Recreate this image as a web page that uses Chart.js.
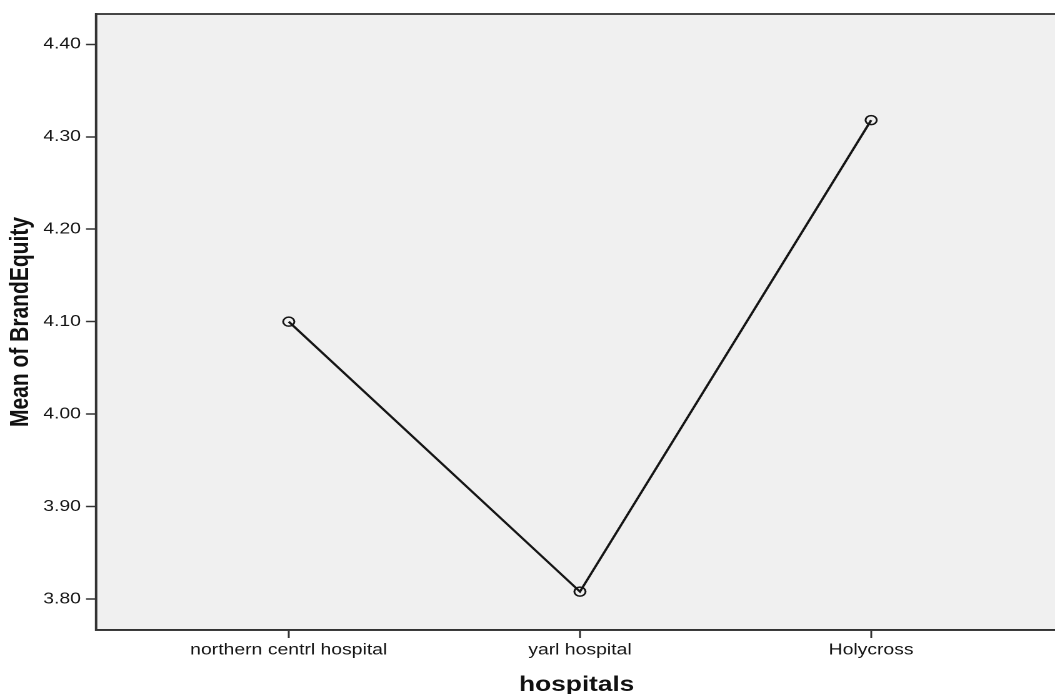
<!DOCTYPE html>
<html>
  <head>
    <title>Mean of BrandEquity by hospitals</title>
    <script src="https://cdn.jsdelivr.net/npm/chart.js"></script>
    <style>
      html, body { margin: 0; padding: 0; overflow: hidden; background: #fff; }
      /* the reference picture is stretched sideways, so draw narrow and widen */
      #wrap { width: 852px; height: 702px; transform: scaleX(1.25); transform-origin: 0 0; }
    </style>
  </head>
  <body>
    <div id="wrap"><canvas id="line-chart"></canvas></div>
    <script>
      // values
      const hospitals = ["northern centrl hospital", "yarl hospital", "Holycross"];
      const meanBrandEquity = [4.10, 3.808, 4.318];
      const yTicks = [3.80, 3.90, 4.00, 4.10, 4.20, 4.30, 4.40];

      // grey plot area with a box round it
      const plotBox = {
        id: "plotBox",
        beforeDraw(chart) {
          const { ctx, chartArea: a } = chart;
          ctx.save();
          ctx.fillStyle = "#f0f0f0";
          ctx.fillRect(a.left, a.top, a.right - a.left, a.bottom - a.top);
          ctx.restore();
        },
        afterDraw(chart) {
          const { ctx, chartArea: a } = chart;
          ctx.save();
          ctx.strokeStyle = "#333";
          ctx.lineWidth = 1.8;
          ctx.strokeRect(a.left, a.top, a.right - a.left, a.bottom - a.top);
          ctx.restore();
        }
      };

      const ctx = document.getElementById("line-chart").getContext("2d");
      new Chart(ctx, {
        type: "line",
        data: {
          datasets: [{
            data: meanBrandEquity.map((v, i) => ({ x: i, y: v })),
            borderColor: "#151515",
            borderWidth: 2,
            pointRadius: 4.5,
            pointBorderWidth: 1.5,
            pointBorderColor: "#151515",
            pointBackgroundColor: "rgba(0,0,0,0)",
            tension: 0
          }]
        },
        options: {
          responsive: true,
          maintainAspectRatio: false,
          animation: false,
          devicePixelRatio: 2,
          layout: { padding: { top: 14, left: 0, right: 0, bottom: 0 } },
          plugins: {
            legend: { display: false },
            tooltip: { enabled: false }
          },
          scales: {
            x: {
              type: "linear",
              min: -0.662,
              max: 2.64,
              afterBuildTicks: s => { s.ticks = hospitals.map((_, i) => ({ value: i })); },
              afterFit: s => { s.height = 72; },
              grid: { drawOnChartArea: false, drawTicks: true, tickLength: 8, tickColor: "#333", tickWidth: 1.5 },
              border: { display: true, color: "#333", width: 1.8 },
              ticks: {
                autoSkip: false,
                maxRotation: 0,
                padding: 3,
                color: "#151515",
                font: { family: "Liberation Sans", size: 15.5 },
                callback: v => hospitals[v]
              },
              title: {
                display: true,
                text: "hospitals",
                color: "#111",
                font: { family: "Liberation Sans", size: 21, weight: "bold" }
              }
            },
            y: {
              min: 3.7665,
              max: 4.4328,
              afterBuildTicks: s => { s.ticks = yTicks.map(v => ({ value: v })); },
              afterFit: s => { s.width = 76.8; },
              grid: { drawOnChartArea: false, drawTicks: true, tickLength: 8, tickColor: "#333", tickWidth: 1.5 },
              border: { display: true, color: "#333", width: 1.8 },
              ticks: {
                padding: 4,
                color: "#151515",
                font: { family: "Liberation Sans", size: 15.5 },
                callback: v => v.toFixed(2)
              },
              title: {
                display: true,
                text: "Mean of BrandEquity",
                color: "#111",
                font: { family: "Liberation Sans", size: 21, weight: "bold" }
              }
            }
          }
        },
        plugins: [plotBox]
      });
    </script>
  </body>
</html>
